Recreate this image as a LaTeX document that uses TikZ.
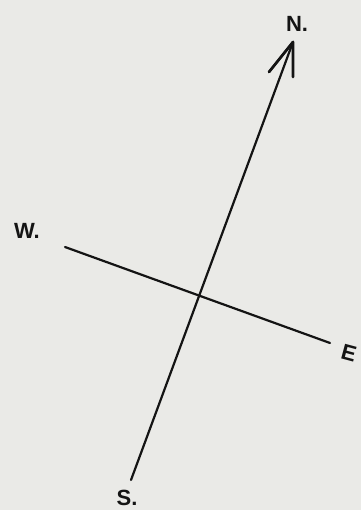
\documentclass[tikz,border=0pt]{standalone}
\usepackage{fontspec}
\setmainfont{Liberation Sans}
\definecolor{paper}{RGB}{234,234,231}
\definecolor{ink}{RGB}{20,20,20}
\begin{document}
\begin{tikzpicture}[x=1pt,y=-1pt,
  pen/.style={draw=ink,line width=2.2pt,line cap=round,line join=round},
  lbl/.style={text=ink,font=\fontsize{22}{22}\selectfont\bfseries,inner sep=0pt}]
\fill[paper] (0,0) rectangle (361,510);
\useasboundingbox (0,0) rectangle (361,510);
\coordinate (s) at (131,480);
\coordinate (n) at (293,42);
\coordinate (w) at (65,247);
\coordinate (e) at (330,343);
\coordinate (bl) at (269,72);
\coordinate (br) at (293,77);
\draw[pen] (s) -- (n);
\draw[pen] (w) -- (e);
\draw[pen,line width=2.8pt] (bl) -- (n) -- (br);
\node[lbl] (N) at (297,24) {N.};
\node[lbl] (W) at (27,231) {W.};
\node[lbl,rotate=-15] (E) at (349,353) {E};
\node[lbl] (S) at (127,498) {S.};
\end{tikzpicture}
\end{document}
